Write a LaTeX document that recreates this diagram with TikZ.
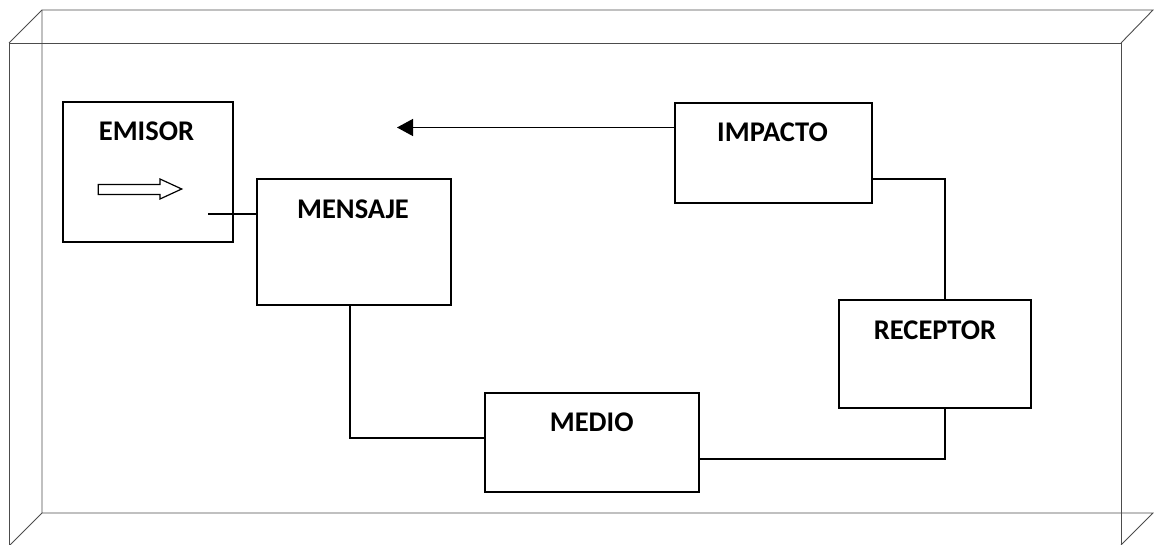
\documentclass[tikz,border=0pt]{standalone}
\usepackage{fontspec}
\setmainfont{Carlito}
\usetikzlibrary{arrows.meta}
\begin{document}
\begin{tikzpicture}[x=1pt,y=-1pt,
  frame/.style={draw=black!70,line width=0.9pt},
  box/.style={draw=black,line width=1.6pt,inner sep=0pt,rectangle},
  lbl/.style={font=\fontsize{28.5}{30}\selectfont\bfseries,anchor=base,inner sep=0pt},
  conn/.style={draw=black,line width=1.4pt}]
\useasboundingbox (0,0) rectangle (1154,545);
% 3D frame
\draw[frame] (9,545) -- (9,43) -- (1121,43) -- (1121,545);
\draw[frame] (9,43) -- (42,10) -- (1153,10) -- (1121,43);
\draw[frame] (42,10) -- (42,513) -- (1153,513) -- (1121,545);
\draw[frame] (42,513) -- (10,545);
% boxes
\node[box,minimum width=170pt,minimum height=140pt] (emisor) at (148,172) {};
\node[box,minimum width=194pt,minimum height=126pt] (mensaje) at (354,242) {};
\node[box,minimum width=197pt,minimum height=100pt] (impacto) at (773.5,153) {};
\node[box,minimum width=192pt,minimum height=108pt] (receptor) at (935,354) {};
\node[box,minimum width=214pt,minimum height=99pt] (medio) at (592,442.5) {};
% labels
\node[lbl] (emisorT) at (146.5,140.7) {EMISOR};
\node[lbl] (mensajeT) at (353,218.3) {MENSAJE};
\node[lbl] (impactoT) at (772.5,141.7) {IMPACTO};
\node[lbl] (receptorT) at (935,339.3) {RECEPTOR};
\node[lbl] (medioT) at (591.7,431.7) {MEDIO};
% block arrow inside EMISOR
\draw[line width=1.2pt] (98.3,184.5) -- (160,184.5) -- (160,179) -- (181.7,189)
  -- (160,199) -- (160,194.5) -- (98.3,194.5) -- cycle;
% connectors
\coordinate (e1) at (208,214);
\draw[conn] (e1) -- (e1 -| mensaje.west);
\coordinate (tip) at (397,127.5);
\draw[conn,-{Triangle[length=16pt,width=17pt]}] (impacto.west |- tip) -- (tip);
\coordinate (c1) at (945,179);
\draw[conn] (impacto.east |- c1) -- (c1) -- (c1 |- receptor.north);
\coordinate (c2) at (945,459);
\draw[conn] (c2 |- receptor.south) -- (c2) -- (c2 -| medio.east);
\coordinate (c3) at (350,438);
\draw[conn] (c3 |- mensaje.south) -- (c3) -- (c3 -| medio.west);
\end{tikzpicture}
\end{document}
